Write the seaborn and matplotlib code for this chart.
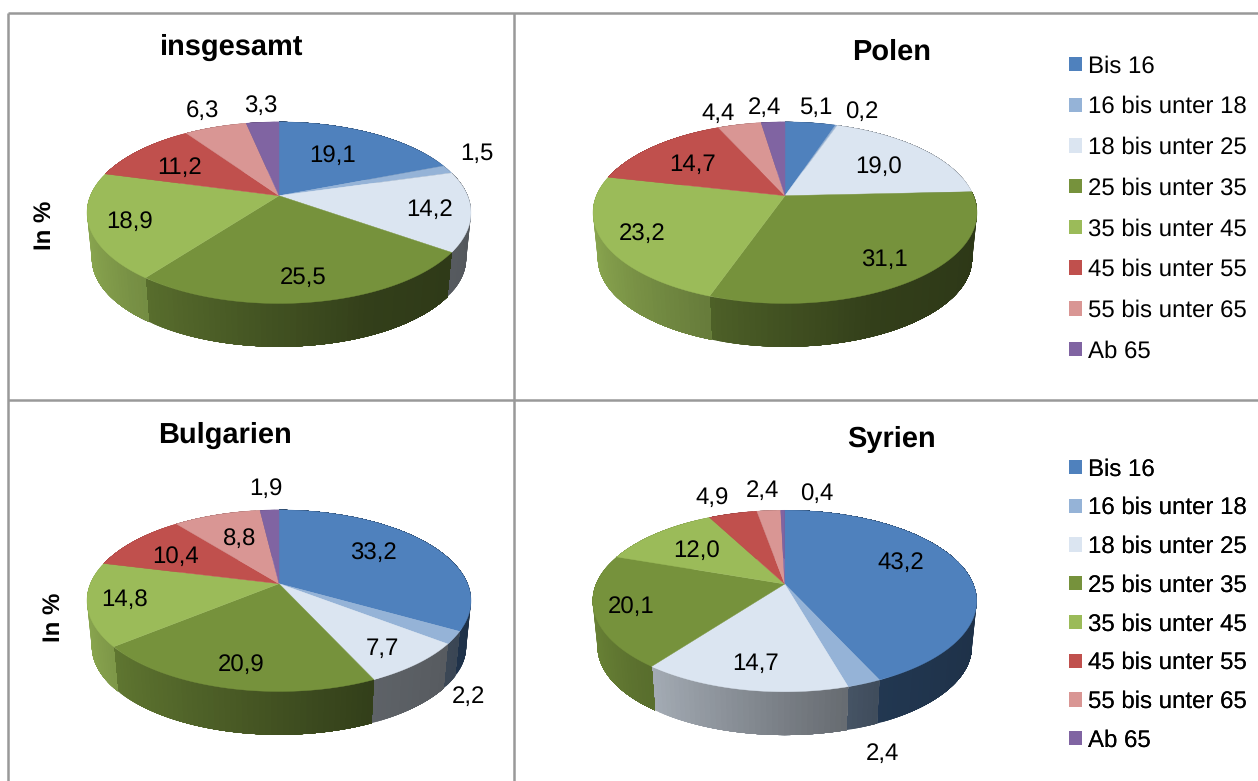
import numpy as np
import matplotlib
matplotlib.use('Agg')
import matplotlib.pyplot as plt
import seaborn as sns
from matplotlib.collections import PolyCollection
from matplotlib.patches import Patch

# data
age_groups = ['Bis 16', '16 bis unter 18', '18 bis unter 25', '25 bis unter 35',
              '35 bis unter 45', '45 bis unter 55', '55 bis unter 65', 'Ab 65']
insgesamt = [19.1, 1.5, 14.2, 25.5, 18.9, 11.2, 6.3, 3.3]
polen = [5.1, 0.2, 19.0, 31.1, 23.2, 14.7, 4.4, 2.4]
bulgarien = [33.2, 2.2, 7.7, 20.9, 14.8, 10.4, 8.8, 1.9]
syrien = [43.2, 2.4, 14.7, 20.1, 12.0, 4.9, 2.4, 0.4]
colors = ['#4f81bd', '#95b3d7', '#dbe5f1', '#76923c', '#9bbb59', '#c0504d', '#d99694', '#8064a2']

# layout in pixels
W, H = 1258, 781
RX = 188.6     # radius before perspective
RY = 87.6
PERSP = 0.187  # far edge shrinks, near edge grows
DEPTH = 46
BOTTOM_SCALE = 0.975
TEXT = ['Liberation Sans', 'DejaVu Sans']

label_pos = {
    'insgesamt': [(333, 154), (477, 152), (430, 208), (303, 276), (130, 220), (180, 166), (202, 109), (261, 104)],
    'polen': [(816, 106), (862, 110), (879, 165), (884, 258), (642, 232), (693, 163), (718, 112), (764, 106)],
    'bulgarien': [(373, 551), (468, 695), (382, 647), (241, 663), (125, 598), (176, 555), (240, 537), (266, 487)],
    'syrien': [(901, 561), (882, 752), (756, 662), (631, 605), (697, 549), (712, 496), (762, 489), (817, 492)],
}

sns.set_theme(style='white')
palette = sns.color_palette(colors)
plt.rcParams['font.family'] = TEXT
plt.rcParams['text.hinting'] = 'no_hinting'
plt.rcParams['text.hinting_factor'] = 1

fig = plt.figure(figsize=(W / 100, H / 100), dpi=100)
ax = fig.add_axes([0, 0, 1, 1])


def project(theta, cx, cy, scale=1.0, drop=0.0):
    # circle seen from above with perspective, theta from the pie wedges
    u = np.cos(np.radians(theta))
    v = np.sin(np.radians(theta))
    w = 1 + PERSP * v
    return cx + scale * RX * u / w, cy + drop - scale * RY * v / w


def side_shade(theta):
    # side gets darker from left to right
    return np.interp(np.cos(np.radians(theta)), [-1, -0.7, 0, 0.4, 1], [0.9, 0.78, 0.55, 0.43, 0.38])


def draw_pie(values, name, cx, cy):
    wedges, _ = ax.pie(values, startangle=90, counterclock=False, frame=True)
    spans = [(w.theta1, w.theta2) for w in wedges]
    for w in wedges:
        w.remove()

    # side wall, every strip runs on to the wedge end and is painted over by the next
    for (t1, t2), col in zip(spans, palette):
        n = max(2, int((t2 - t1) / 1.5) + 2)
        ts = np.linspace(t1, t2, n)
        xt, yt = project(ts, cx, cy)
        xb, yb = project(ts, cx, cy, BOTTOM_SCALE, DEPTH)
        quads, cols = [], []
        for i in range(n - 1):
            quads.append(np.r_[np.c_[xt[i:], yt[i:]], np.c_[xb[i:], yb[i:]][::-1]])
            shade = side_shade((ts[i] + ts[i + 1]) / 2)
            cols.append(tuple(np.array(col) * shade))
        ax.add_collection(PolyCollection(quads, facecolors=cols, edgecolors='none', zorder=2))

    # top surface
    for (t1, t2), col in zip(spans, palette):
        ts = np.linspace(t1, t2, max(2, int(t2 - t1) + 2))
        x, y = project(ts, cx, cy)
        ax.fill(np.r_[cx, x], np.r_[cy, y], color=col, lw=0.3, zorder=3)

    for v, (lx, ly) in zip(values, label_pos[name]):
        ax.text(lx, ly + 1.5, f'{v:.1f}'.replace('.', ','), ha='center', va='center',
                fontsize=17, color='black', zorder=5)


draw_pie(insgesamt, 'insgesamt', 279, 195.7)
draw_pie(polen, 'polen', 785, 195.7)
draw_pie(bulgarien, 'bulgarien', 279, 583.7)
draw_pie(syrien, 'syrien', 784.7, 584)

ax.set_xlim(0, W)
ax.set_ylim(H, 0)
ax.set_aspect('auto')
ax.axis('off')

# frame lines of the table
line = dict(color='#999999', lw=1.8, zorder=1, solid_capstyle='butt')
ax.plot([8, W], [13, 13], **line)
ax.plot([8, 8], [13, H], **line)
ax.plot([514, 514], [13, H], **line)
ax.plot([8, W], [400, 400], **line)

for txt, x, y in [('insgesamt', 232, 47.5), ('Polen', 892, 52.5), ('Bulgarien', 225, 435.5), ('Syrien', 892, 439.5)]:
    ax.text(x, y, txt, ha='center', va='center', fontsize=21, fontweight='bold', color='black')
for x, y in [(45, 225), (54, 617)]:
    ax.text(x, y, 'In %', ha='center', va='center', rotation=90, fontsize=17, fontweight='bold', color='black')

handles = [Patch(facecolor=c, edgecolor='none', label=g) for c, g in zip(palette, age_groups)]


def add_legend(top, spacing):
    leg = ax.legend(handles=handles, loc='upper left', bbox_to_anchor=(1069, top), bbox_transform=ax.transData,
                    frameon=False, fontsize=17, labelspacing=spacing, handlelength=0.56, handleheight=0.56,
                    handletextpad=0.24, borderpad=0, borderaxespad=0)
    for t in leg.get_texts():
        t.set_color('black')
    ax.add_artist(leg)


add_legend(55, 0.777)
add_legend(458, 0.693)

fig.savefig('out.png', dpi=100)
